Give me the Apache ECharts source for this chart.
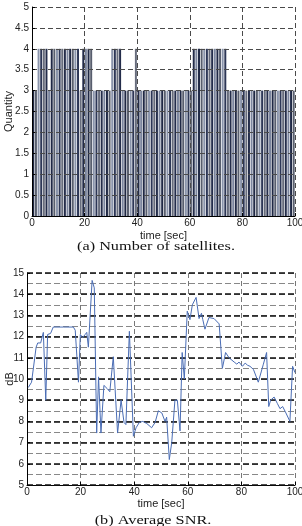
<!DOCTYPE html>
<html>
<head>
<meta charset="utf-8">
<script src="https://cdn.jsdelivr.net/npm/echarts@6/dist/echarts.min.js"></script>
<style>
  html, body { margin: 0; padding: 0; background: #fff; }
  #main { width: 302px; height: 526px; }
</style>
</head>
<body>
<div id="main"></div>
<script>
// (a) number of satellites, one bar per second
var satellites = [
  3, 3, 4, 4, 4, 4, 3, 4, 4, 4,
  4, 4, 4, 4, 4, 4, 4, 4, 3, 4,
  4, 4, 4, 3, 3, 3, 3, 3, 3, 3,
  4, 4, 4, 4, 3, 3, 3, 3, 3, 4,
  3, 3, 3, 3, 3, 3, 3, 3, 3, 3,
  3, 3, 3, 3, 3, 3, 3, 3, 3, 3,
  3, 4, 4, 4, 4, 4, 4, 4, 4, 4,
  4, 4, 4, 4, 3, 3, 3, 3, 3, 3,
  3, 3, 3, 3, 3, 3, 3, 3, 3, 3,
  3, 3, 3, 3, 3, 3, 3, 3, 3, 3
];

// (b) average SNR
var snrTime = [
  0.5, 1.7, 3.4, 4.0, 5.1, 6.1, 7.0, 7.7, 8.8, 9.8,
  13.6, 17.3, 18.0, 19.2, 19.9, 20.8, 21.7, 22.3, 22.9, 23.5,
  24.3, 25.1, 26.0, 26.7, 27.6, 28.7, 29.9, 30.9, 32.2, 33.8,
  35.1, 36.2, 36.9, 38.2, 39.7, 40.7, 41.9, 43.2, 44.7, 46.5,
  47.8, 49.0, 50.3, 51.5, 52.1, 53.1, 54.0, 55.2, 56.1, 57.1,
  57.9, 58.7, 59.8, 60.8, 61.7, 63.1, 64.2, 65.1, 65.6, 66.4,
  67.9, 69.8, 71.7, 72.9, 74.1, 75.4, 77.3, 78.3, 79.1, 80.4,
  81.4, 82.3, 83.2, 84.5, 86.3, 88.2, 89.4, 90.2, 90.9, 92.2,
  93.4, 94.4, 95.4, 96.6, 98.1, 99.1, 100
];
var snrDb = [
  9.6, 9.85, 11.5, 11.7, 11.7, 12.2, 9.0, 12.1, 12.15, 12.45,
  12.45, 12.45, 12.3, 9.85, 12.1, 11.95, 12.1, 12.2, 11.5, 11.5,
  14.65, 14.3, 7.45, 10.1, 7.45, 9.7, 9.55, 9.4, 11.05, 7.45,
  9.0, 7.95, 7.85, 12.25, 7.3, 7.7, 7.95, 8.0, 7.9, 7.7,
  7.95, 8.5, 8.4, 8.0, 8.2, 6.2, 7.0, 9.0, 9.0, 7.55,
  11.25, 10.0, 13.2, 12.8, 13.5, 13.85, 12.85, 13.1, 12.8, 12.35,
  12.9, 12.85, 12.6, 10.5, 11.25, 11.0, 10.8, 10.7, 10.8, 10.6,
  10.75, 10.65, 10.6, 10.45, 9.85, 10.7, 11.25, 8.7, 9.0, 9.15,
  8.85, 8.6, 8.7, 8.4, 8.0, 10.6, 10.3
];

var seconds = [];
for (var i = 0; i < satellites.length; i++) seconds.push(String(i + 1));

var snrData = [];
for (var j = 0; j < snrTime.length; j++) snrData.push([snrTime[j], snrDb[j]]);

// stripes seen on the scanned bars
var barShades = ['#1f2845', '#585e6e', '#8a94ab', '#2c3656', '#676c7c', '#232c4a', '#7b859e'];

var tickFont = { fontFamily: 'Liberation Sans', fontSize: 10, color: '#222' };
var nameFont = { fontFamily: 'Liberation Sans', fontSize: 11, color: '#222' };
var dash = { type: [5, 3], color: '#4a4a4a', width: 1 };

var chart = echarts.init(document.getElementById('main'));

var option = {
  animation: false,
  backgroundColor: '#fff',
  grid: [
    { left: 32, top: 7, width: 263, height: 209, containLabel: false, outerBoundsMode: 'none' },
    { left: 27, top: 273, width: 268, height: 212, containLabel: false, outerBoundsMode: 'none' }
  ],
  xAxis: [
    {
      type: 'category', gridIndex: 0, data: seconds, show: false,
      position: 'bottom', boundaryGap: true
    },
    {
      type: 'value', gridIndex: 0, position: 'bottom', min: 0, max: 100, interval: 20, z: 5,
      name: 'time [sec]', nameLocation: 'middle', nameGap: 14, nameTextStyle: nameFont,
      nameMoveOverlap: false,
      axisLine: { lineStyle: { color: '#000', width: 1 } },
      axisTick: { inside: true, length: 3, lineStyle: { color: '#000' } },
      axisLabel: Object.assign({ margin: 2 }, tickFont),
      splitLine: { show: true, lineStyle: dash }
    },
    {
      type: 'value', gridIndex: 1, position: 'bottom', min: 0, max: 100, interval: 20,
      name: 'time [sec]', nameLocation: 'middle', nameGap: 13, nameTextStyle: nameFont,
      nameMoveOverlap: false,
      axisLine: { lineStyle: { color: '#000', width: 1 } },
      axisTick: { inside: true, length: 3, lineStyle: { color: '#000' } },
      axisLabel: Object.assign({ margin: 2 }, tickFont),
      splitLine: { show: true, lineStyle: { type: [5, 3], color: '#777', width: 1 } }
    }
  ],
  yAxis: [
    {
      type: 'value', gridIndex: 0, min: 0, max: 5, interval: 0.5, z: 5,
      name: 'Quantity', nameLocation: 'middle', nameGap: 18, nameRotate: 90, nameTextStyle: nameFont,
      nameMoveOverlap: false,
      axisLine: { show: true, lineStyle: { color: '#000', width: 1 } },
      axisTick: { show: true, inside: true, length: 3, lineStyle: { color: '#000' } },
      axisLabel: Object.assign({ margin: 3 }, tickFont),
      splitLine: { show: true, lineStyle: dash }
    },
    {
      type: 'value', gridIndex: 1, min: 5, max: 15, interval: 1, z: 1,
      name: 'dB', nameLocation: 'middle', nameGap: 12, nameRotate: 90, nameTextStyle: nameFont,
      nameMoveOverlap: false,
      axisLine: { show: true, lineStyle: { color: '#000', width: 1 } },
      axisTick: { show: true, inside: true, length: 3, lineStyle: { color: '#000' } },
      axisLabel: Object.assign({ margin: 3 }, tickFont),
      splitLine: { show: true, lineStyle: { type: [6, 3], color: '#111', width: 1.6 } }
    },
    {
      type: 'value', gridIndex: 1, min: 5, max: 15, interval: 0.5, z: 0,
      position: 'left', offset: 0,
      axisLine: { show: false }, axisTick: { show: false }, axisLabel: { show: false },
      splitLine: { show: true, lineStyle: { type: [6, 3], color: '#888', width: 1 } }
    }
  ],
  series: [
    {
      type: 'bar', xAxisIndex: 0, yAxisIndex: 0,
      data: satellites,
      barCategoryGap: '25%',
      itemStyle: {
        color: function (p) { return barShades[p.dataIndex % barShades.length]; }
      }
    },
    {
      type: 'line', xAxisIndex: 2, yAxisIndex: 1,
      data: snrData,
      showSymbol: false,
      lineStyle: { color: '#4a6db5', width: 1 }
    }
  ],
  graphic: [
    {
      type: 'text', x: 156, y: 247, scaleX: 1.25,
      style: {
        text: '(a) Number of satellites.', fontFamily: 'Liberation Serif', fontSize: 13,
        fill: '#111', align: 'center', verticalAlign: 'middle'
      }
    },
    {
      type: 'text', x: 153, y: 521, scaleX: 1.25,
      style: {
        text: '(b) Average SNR.', fontFamily: 'Liberation Serif', fontSize: 13,
        fill: '#111', align: 'center', verticalAlign: 'middle'
      }
    }
  ]
};

chart.setOption(option);
</script>
</body>
</html>
